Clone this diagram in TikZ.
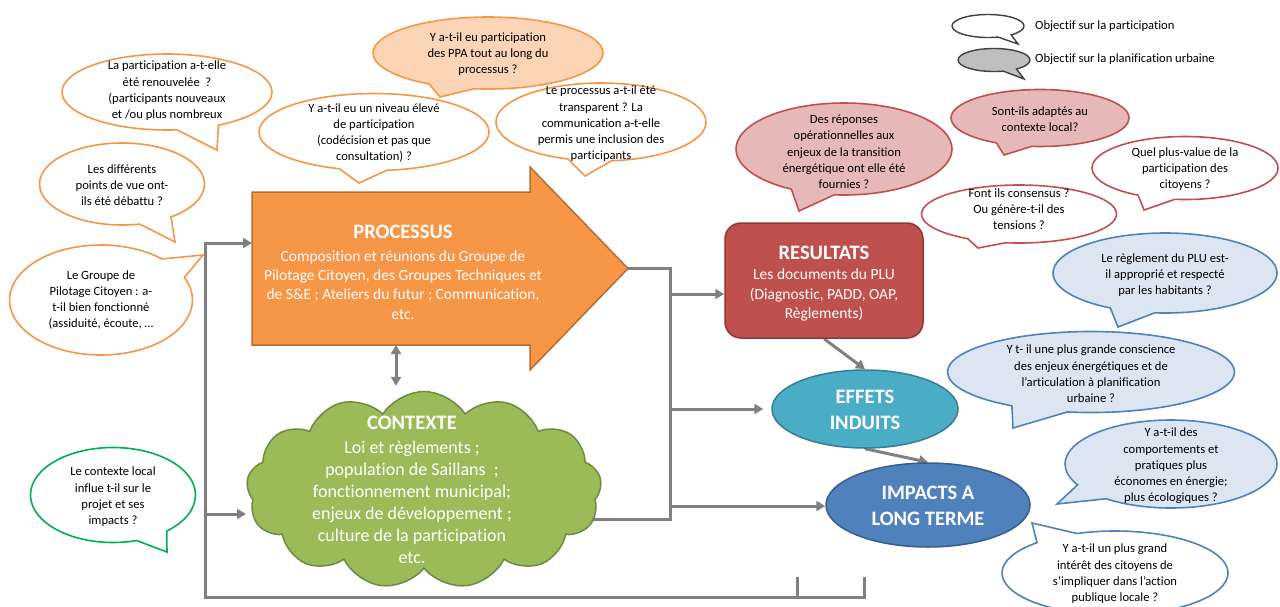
\documentclass[tikz,border=0pt]{standalone}
\usepackage{fontspec}
\setmainfont{Carlito}[Ligatures={NoCommon}]
\usetikzlibrary{shapes.callouts,shapes.symbols,shapes.geometric,arrows.meta}
\definecolor{orS}{HTML}{F79646}
\definecolor{orF}{HTML}{FBD5B5}
\definecolor{orD}{HTML}{B66D31}
\definecolor{rdS}{HTML}{C0504D}
\definecolor{rdF}{HTML}{E6B9B8}
\definecolor{rdD}{HTML}{8C3836}
\definecolor{blS}{HTML}{4F81BD}
\definecolor{blF}{HTML}{DCE6F2}
\definecolor{blD}{HTML}{385D8A}
\definecolor{gnS}{HTML}{00B050}
\definecolor{clF}{HTML}{9BBB59}
\definecolor{clD}{HTML}{71893F}
\definecolor{aqF}{HTML}{4BACC6}
\definecolor{aqD}{HTML}{357D91}
\definecolor{grL}{HTML}{808080}
\definecolor{lgD}{HTML}{404040}
\definecolor{lgF}{HTML}{BFBFBF}
\pgfdeclarelayer{bg}
\pgfsetlayers{bg,main}
\tikzset{
  callbase/.style={shape=ellipse callout, inner sep=0pt, line width=1.6pt, callout pointer arc=24},
  corange/.style={callbase, draw=orS, fill=white},
  corangef/.style={callbase, draw=orS, fill=orF},
  cred/.style={callbase, draw=rdS, fill=white},
  credf/.style={callbase, draw=rdS, fill=rdF},
  cblue/.style={callbase, draw=blS, fill=blF},
  cbluew/.style={callbase, draw=blS, fill=white},
  cgreen/.style={callbase, draw=gnS, fill=white},
  clegw/.style={callbase, draw=lgD, line width=1.4pt, fill=white},
  clegg/.style={callbase, draw=lgD, line width=1.4pt, fill=lgF},
  ctext/.style={align=center, inner sep=0pt, font=\fontsize{12.6}{16.3}\selectfont},
  ltext/.style={anchor=west, inner sep=0pt, font=\fontsize{12.6}{15}\selectfont},
  wtitle/.style={align=center, inner sep=0pt, text=white, font=\fontsize{20.5}{26}\selectfont\bfseries},
  wbody/.style={align=center, inner sep=0pt, text=white, font=\fontsize{15.5}{19.2}\selectfont},
  gline/.style={draw=grL, line width=3pt},
  garrow/.style={gline, -{Triangle[length=9pt,width=10pt]}},
  gdarrow/.style={gline, {Triangle[length=9pt,width=10pt]}-{Triangle[length=9pt,width=10pt]}},
}
\begin{document}
\begin{tikzpicture}[x=1pt,y=-1pt]
\useasboundingbox (0,0) rectangle (1280,606);

% ---------- legend
\node[clegw, minimum width=72pt, minimum height=23pt, callout absolute pointer={(1018,44)}] (lg1) at (988,26) {};
\node[clegg, minimum width=72pt, minimum height=23pt, callout absolute pointer={(1024,79)}] (lg2) at (994,60) {};
\node[ltext] (lg1t) at (1035,26) {Objectif sur la participation};
\node[ltext] (lg2t) at (1035,59) {Objectif sur la planification urbaine};

% ---------- orange callouts
\node[corange, minimum width=210pt, minimum height=76pt, callout absolute pointer={(217,150)}] (c1) at (167,92) {};
\node[ctext] (c1t) at (167,91) {La participation a-t-elle\\été renouvelée\ \ ?\\(participants nouveaux\\et /ou plus nombreux};

\node[corange, minimum width=165pt, minimum height=82pt, callout absolute pointer={(175,242)}] (c2) at (122,184) {};
\node[ctext] (c2t) at (122,185) {Les différents\\points de vue ont-\\ils été débattu ?};

\node[corange, minimum width=183pt, minimum height=110pt, callout absolute pointer={(203,255)}] (c3) at (101,300) {};
\node[ctext] (c3t) at (101,300) {Le Groupe de\\Pilotage Citoyen : a-\\t-il bien fonctionné\\(assiduité, écoute, …};

\node[corangef, minimum width=230pt, minimum height=72pt, callout absolute pointer={(440,97)}] (c4) at (488,53) {};
\node[ctext] (c4t) at (488,54) {Y a-t-il eu participation\\des PPA tout au long du\\processus ?};

\node[corange, minimum width=230pt, minimum height=77pt, callout absolute pointer={(359,183)}] (c5) at (374,132) {};
\node[ctext] (c5t) at (374,133) {Y a-t-il eu un niveau élevé\\de participation\\(codécision et pas que\\consultation) ?};

\node[corange, minimum width=210pt, minimum height=78pt, callout absolute pointer={(585,176)}] (c6) at (601,122) {};
\node[ctext] (c6t) at (601,124) {Le processus a-t-il été\\transparent ? La\\communication a-t-elle\\permis une inclusion des\\participants};

% ---------- red callouts
\node[credf, minimum width=216pt, minimum height=92pt, callout absolute pointer={(799,211)}] (c7) at (844,149) {};
\node[ctext] (c7t) at (844,152) {Des réponses\\opérationnelles aux\\enjeux de la transition\\énergétique ont elle été\\fournies ?};

\node[credf, minimum width=178pt, minimum height=57pt, callout absolute pointer={(1004,155)}] (c8) at (1040,118) {};
\node[ctext] (c8t) at (1040,119) {Sont-ils adaptés au\\contexte local?};

\node[cred, minimum width=195pt, minimum height=58pt, callout absolute pointer={(978,248)}] (c9) at (1019,214) {};
\node[ctext] (c9t) at (1019,209) {Font ils consensus ?\\Ou génère-t-il des\\tensions ?};

\node[cred, minimum width=186pt, minimum height=63pt, callout absolute pointer={(1144,210)}] (c10) at (1185,168) {};
\node[ctext] (c10t) at (1185,169) {Quel plus-value de la\\participation des\\citoyens ?};

% ---------- blue callouts
\node[cblue, minimum width=224pt, minimum height=80pt, callout absolute pointer={(1118,327)}] (c11) at (1165,273) {};
\node[ctext] (c11t) at (1165,275) {Le règlement du PLU est-\\il approprié et respecté\\par les habitants ?};

\node[cblue, minimum width=287pt, minimum height=81pt, callout absolute pointer={(1013,428)}] (c12) at (1091,372) {};
\node[ctext] (c12t) at (1091,374) {Y t- il une plus grande conscience\\des enjeux énergétiques et de\\l’articulation à planification\\urbaine ?};

\node[cblue, minimum width=212pt, minimum height=88pt, callout absolute pointer={(1057,504)}] (c13) at (1171,464) {};
\node[ctext] (c13t) at (1171,466) {Y a-t-il des\\comportements et\\pratiques plus\\économes en énergie;\\plus écologiques ?};

\node[cbluew, minimum width=226pt, minimum height=84pt, callout absolute pointer={(1032,523)}] (c14) at (1115,573) {};
\node[ctext] (c14t) at (1115,574) {Y a-t-il un plus grand\\intérêt des citoyens de\\s’impliquer dans l’action\\publique locale ?};

% ---------- green callout
\node[cgreen, minimum width=165pt, minimum height=95pt, callout absolute pointer={(167,552)}] (c15) at (113,495) {};
\node[ctext] (c15t) at (113,497) {Le contexte local\\influe t-il sur le\\projet et ses\\impacts ?};

% ---------- PROCESSUS arrow
\draw[fill=orS, draw=orD, line width=1.5pt, line join=miter]
  (252,192) -- (530,192) -- (530,167) -- (628,268.5) -- (530,370) -- (530,345) -- (252,345) -- cycle;
\coordinate (procL) at (252,243);
\coordinate (procB) at (396,345);
\coordinate (procTip) at (628,268.5);
\node[wtitle] (proct) at (403,232) {PROCESSUS};
\node[wbody] (procb) at (403,285) {Composition et réunions du Groupe de\\Pilotage Citoyen, des Groupes Techniques et\\de S\&E ; Ateliers du futur ; Communication,\\etc.};

% ---------- CONTEXTE cloud
\node[cloud, cloud puffs=13, cloud puff arc=115, aspect=1.8, fill=clF, draw=clD, line width=1.5pt,
      minimum width=355pt, minimum height=197pt, inner sep=0pt] (ctx) at (424,490) {};
\node[wtitle] (ctxt) at (412,423) {CONTEXTE};
\node[align=center, inner sep=0pt, text=white, font=\fontsize{18}{22}\selectfont] (ctxb) at (412,502)
  {Loi et règlements ;\\population de Saillans\ \ ;\\fonctionnement municipal;\\enjeux de développement ;\\culture de la participation\\etc.};

% ---------- RESULTATS
\node[rectangle, rounded corners=16pt, fill=rdS, draw=rdD, line width=1.5pt,
      minimum width=198pt, minimum height=115pt, inner sep=0pt] (res) at (824,280.5) {};
\node[wtitle] (rest) at (824,253) {RESULTATS};
\node[wbody] (resb) at (824,295) {Les documents du PLU\\(Diagnostic, PADD, OAP,\\Règlements)};

% ---------- EFFETS INDUITS
\node[ellipse, fill=aqF, draw=aqD, line width=1.5pt, minimum width=186pt, minimum height=78pt,
      inner sep=0pt] (eff) at (865,409) {};
\node[wtitle] (efft) at (865,410) {EFFETS\\INDUITS};

% ---------- IMPACTS
\node[ellipse, fill=blS, draw=blD, line width=1.5pt, minimum width=204pt, minimum height=84pt,
      inner sep=0pt] (imp) at (928,505) {};
\node[wtitle] (impt) at (928,506) {IMPACTS A\\LONG TERME};

% ---------- connectors
\coordinate (jL1) at (205,243);
\coordinate (jL2) at (205,514);
\coordinate (jL3) at (205,597);
\coordinate (jB1) at (797,597);
\coordinate (jB2) at (864,597);
\coordinate (tk1) at (797,577);
\coordinate (tk2) at (864,577);
\coordinate (jR0) at (670,268.5);
\coordinate (jR1) at (670,294);
\coordinate (jR2) at (670,409);
\coordinate (jR3) at (670,506);
\coordinate (jR4) at (670,519);
\coordinate (ctxR) at (580,519);

\begin{pgfonlayer}{bg}
\draw[gline, line cap=rect] (jL1) -- (jL3) -- (jB2);
\draw[gline] (jB1) -- (tk1);
\draw[gline] (jB2) -- (tk2);
\draw[garrow] (jL1) -- (procL);
\draw[garrow] (jL2) -- (246,514);
\draw[gline, line cap=rect] (procTip) -- (jR0) -- (jR4) -- (ctxR);
\draw[garrow] (jR1) -- (jR1 -| res.west);
\draw[garrow, shorten >=8pt] (jR2) -- (jR2 -| eff.west);
\draw[garrow] (jR3) -- (jR3 -| imp.west);
\draw[gdarrow, shorten >=5pt] (procB) -- (procB |- ctx.north);
\draw[garrow] (res.south) -- (eff.north);
\draw[garrow] (eff.south) -- (imp.north);
\end{pgfonlayer}
\end{tikzpicture}
\end{document}
